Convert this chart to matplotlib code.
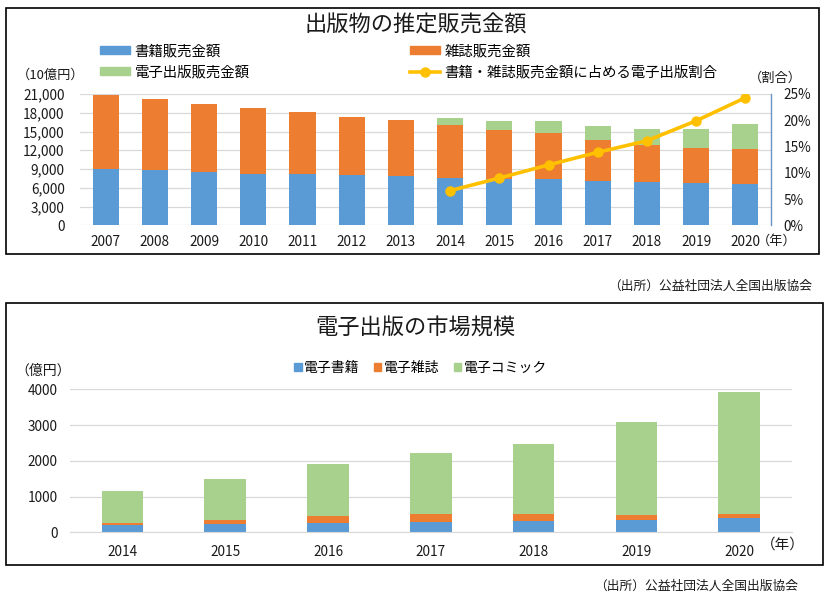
import matplotlib
matplotlib.use('Agg')
import matplotlib.pyplot as plt
from matplotlib.patches import Rectangle, Patch
from matplotlib.lines import Line2D
import numpy as np

plt.rcParams['font.family'] = ['Noto Sans CJK JP', 'DejaVu Sans']

# --- データ: 出版物の推定販売金額 (10億円) ---
years_top = ['2007', '2008', '2009', '2010', '2011', '2012', '2013',
             '2014', '2015', '2016', '2017', '2018', '2019', '2020']
books = [9026, 8878, 8492, 8213, 8199, 8013, 7851, 7544, 7419, 7370, 7152, 6991, 6723, 6661]
magazines = [11827, 11299, 10864, 10536, 9844, 9385, 8972, 8520, 7801, 7339, 6548, 5930, 5637, 5576]
ebooks_total = [0, 0, 0, 0, 0, 0, 0, 1144, 1502, 1909, 2215, 2479, 3072, 3931]
ratio_years = ['2014', '2015', '2016', '2017', '2018', '2019', '2020']
ratio = [6.6, 9.0, 11.5, 13.9, 16.1, 19.9, 24.3]

# --- データ: 電子出版の市場規模 (億円) ---
years_bot = ['2014', '2015', '2016', '2017', '2018', '2019', '2020']
e_books = [192, 228, 258, 290, 321, 349, 401]
e_magazines = [70, 125, 191, 214, 193, 130, 110]
e_comics = [882, 1149, 1460, 1711, 1965, 2593, 3420]

BLUE = '#5B9BD5'
ORANGE = '#ED7D31'
GREEN = '#A9D18E'
YELLOW = '#FFC000'
GRID = '#D9D9D9'
TXT = '#1a1a1a'

W, H = 829, 595
fig = plt.figure(figsize=(W / 100, H / 100), dpi=100)


def px_box(x0, y0, x1, y1):
    # ピクセル座標 -> figure座標
    return [x0 / W, 1 - y1 / H, (x1 - x0) / W, (y1 - y0) / H]


def fx(x):
    return x / W


def fy(y):
    return 1 - y / H


# 枠線
for (x0, y0, x1, y1) in [(6, 7.5, 819.5, 253.5), (6.5, 302.5, 823.5, 564.5)]:
    b = px_box(x0, y0, x1, y1)
    fig.add_artist(Rectangle((b[0], b[1]), b[2], b[3], transform=fig.transFigure,
                             fill=False, edgecolor='black', linewidth=1.2))

# ===== 上段 =====
ax1 = fig.add_axes(px_box(80, 94, 771, 225.3))
x = np.arange(len(years_top))
bw = 0.53
ax1.bar(x, books, bw, color=BLUE, zorder=2)
ax1.bar(x, magazines, bw, bottom=books, color=ORANGE, zorder=2)
ax1.bar(x, ebooks_total, bw, bottom=np.array(books) + np.array(magazines), color=GREEN, zorder=2)
ax1.set_xlim(-0.52, len(years_top) - 0.48)
ax1.set_ylim(0, 21000)
ax1.set_yticks(range(0, 21001, 3000))
ax1.set_yticklabels([f'{v:,}' for v in range(0, 21001, 3000)])
ax1.set_xticks(x)
ax1.set_xticklabels(years_top)
ax1.yaxis.grid(True, color=GRID, linewidth=0.9, zorder=0)
ax1.set_axisbelow(True)
for s in ['top', 'left', 'right', 'bottom']:
    ax1.spines[s].set_visible(False)
ax1.tick_params(axis='y', length=0, pad=11, labelsize=9.8, labelcolor=TXT)
ax1.tick_params(axis='x', length=0, pad=7, labelsize=9.8, labelcolor=TXT)

ax2 = ax1.twinx()
rx = [years_top.index(y) for y in ratio_years]
ax2.plot(rx, ratio, color=YELLOW, linewidth=2.6, marker='o', markersize=6.5, zorder=5)
ax2.set_ylim(0, 25)
ax2.set_yticks(range(0, 26, 5))
ax2.set_yticklabels([f'{v}%' for v in range(0, 26, 5)])
for s in ['top', 'left', 'bottom']:
    ax2.spines[s].set_visible(False)
ax2.spines['right'].set_color('#6A93C4')
ax2.spines['right'].set_linewidth(1.0)
ax2.tick_params(axis='y', length=0, pad=9, labelsize=9.8, labelcolor=TXT)

fig.text(fx(416), fy(25), '出版物の推定販売金額', ha='center', va='center', fontsize=16, color=TXT)
fig.text(fx(51), fy(75), '（10億円）', ha='center', va='center', fontsize=9.5, color=TXT)
fig.text(fx(775), fy(78), '（割合）', ha='center', va='center', fontsize=9.5, color=TXT)
fig.text(fx(777), fy(241), '（年）', ha='center', va='center', fontsize=9.5, color=TXT)
fig.text(fx(812), fy(286), '（出所）公益社団法人全国出版協会', ha='right', va='center', fontsize=9.2, color=TXT)

leg_kw = dict(frameon=False, fontsize=10.4, handlelength=2.1, handleheight=0.5,
              handletextpad=0.3, labelspacing=0.5, borderpad=0, borderaxespad=0, loc='upper left')
fig.legend(handles=[Patch(color=BLUE, label='書籍販売金額'),
                    Patch(color=GREEN, label='電子出版販売金額')],
           bbox_to_anchor=(fx(100), fy(44)), **leg_kw)
fig.legend(handles=[Patch(color=ORANGE, label='雑誌販売金額'),
                    Line2D([], [], color=YELLOW, linewidth=2.6, marker='o', markersize=6.5,
                           label='書籍・雑誌販売金額に占める電子出版割合')],
           bbox_to_anchor=(fx(410), fy(44)), numpoints=1, **leg_kw)

# ===== 下段 =====
ax3 = fig.add_axes(px_box(70, 389.3, 791.7, 532.3))
xb = np.arange(len(years_bot))
bw2 = 0.405
ax3.bar(xb, e_books, bw2, color=BLUE, zorder=2, label='電子書籍')
ax3.bar(xb, e_magazines, bw2, bottom=e_books, color=ORANGE, zorder=2, label='電子雑誌')
ax3.bar(xb, e_comics, bw2, bottom=np.array(e_books) + np.array(e_magazines), color=GREEN,
        zorder=2, label='電子コミック')
ax3.set_xlim(-0.51, len(years_bot) - 0.49)
ax3.set_ylim(0, 4000)
ax3.set_yticks(range(0, 4001, 1000))
ax3.set_xticks(xb)
ax3.set_xticklabels(years_bot)
ax3.yaxis.grid(True, color=GRID, linewidth=0.9, zorder=0)
ax3.set_axisbelow(True)
for s in ['top', 'left', 'right']:
    ax3.spines[s].set_visible(False)
ax3.spines['bottom'].set_color(GRID)
ax3.tick_params(axis='y', length=0, pad=9, labelsize=9.8, labelcolor=TXT)
ax3.tick_params(axis='x', length=0, pad=9, labelsize=9.8, labelcolor=TXT)

fig.text(fx(415), fy(328), '電子出版の市場規模', ha='center', va='center', fontsize=16, color=TXT)
fig.text(fx(43), fy(371), '（億円）', ha='center', va='center', fontsize=10, color=TXT)
fig.text(fx(783), fy(545), '（年）', ha='center', va='center', fontsize=10.5, color=TXT)
fig.text(fx(798), fy(586), '（出所）公益社団法人全国出版協会', ha='right', va='center', fontsize=9.2, color=TXT)

fig.legend(handles=[Patch(color=BLUE, label='電子書籍'),
                    Patch(color=ORANGE, label='電子雑誌'),
                    Patch(color=GREEN, label='電子コミック')],
           loc='center left', bbox_to_anchor=(fx(294), fy(368)), ncol=3, frameon=False,
           fontsize=10, handlelength=0.55, handleheight=0.55, handletextpad=0.2,
           columnspacing=1.0, borderpad=0, borderaxespad=0)

fig.savefig('out.png', dpi=100)
